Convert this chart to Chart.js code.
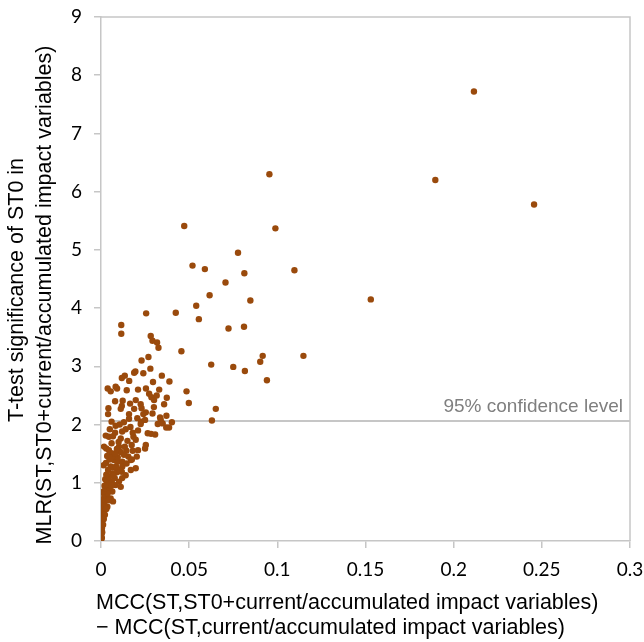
<!DOCTYPE html>
<html>
<head>
<meta charset="utf-8">
<script src="https://cdn.jsdelivr.net/npm/chart.js@4"></script>
<style>
  body { margin: 0; background: #fff; }
  #wrap { width: 644px; height: 642px; }
</style>
</head>
<body>
<div id="wrap"><canvas id="chart" width="644" height="642"></canvas></div>
<script>
// MCC(ST,ST0+current/accumulated) - MCC(ST,current/accumulated)
const mccGain = [
  0.2115, 0.1896, 0.2456, 0.0955, 0.0472, 0.0989, 0.0777, 0.0519, 0.0589, 0.1097,
  0.0813, 0.0706, 0.0616, 0.1530, 0.0847, 0.0540, 0.0555, 0.0723, 0.0811, 0.0456,
  0.0625, 0.0750, 0.0816, 0.0917, 0.0903, 0.1148, 0.0941, 0.0485, 0.0498, 0.0651,
  0.0629, 0.0424,
  0.0256, 0.0115, 0.0115, 0.0282, 0.0292, 0.0318, 0.0326, 0.0269, 0.0195, 0.0188,
  0.0135, 0.0118, 0.0345, 0.0388, 0.0295, 0.0038, 0.0055, 0.0083, 0.0091, 0.0146,
  0.0273, 0.0286, 0.0301, 0.0316, 0.0373, 0.0123, 0.0197, 0.0358, 0.0225, 0.0118,
  0.0112, 0.0042, 0.0188, 0.0254, 0.0040, 0.0159, 0.0240, 0.0292, 0.0159, 0.0206,
  0.0335, 0.0371, 0.0339, 0.0402, 0.0227, 0.0386, 0.0083, 0.0106, 0.0167, 0.0225,
  0.0322, 0.0265, 0.0284, 0.0307, 0.0027, 0.0045, 0.0068, 0.0112, 0.0184, 0.0197,
  0.0174, 0.0254, 0.0250, 0.0017, 0.0030, 0.0045, 0.0060, 0.0102, 0.0112, 0.0144,
  0.0210, 0.0155, 0.0203, 0.0074, 0.0093, 0.0121, 0.0169, 0.0055, 0.0121, 0.0197,
  0.0169, 0.0118, 0.0140, 0.0064, 0.0036, 0.0055, 0.0102, 0.0083, 0.0112, 0.0042,
  0.0064, 0.0023, 0.0055, 0.0068, 0.0017, 0.0036, 0.0011, 0.0008, 0.0004, 0.0002,
  0.0001,
  0.0000, 0.0001, 0.0002, 0.0003, 0.0001, 0.0005, 0.0003, 0.0006, 0.0004, 0.0009,
  0.0007, 0.0012, 0.0010, 0.0015, 0.0008, 0.0020, 0.0013, 0.0025, 0.0011, 0.0030,
  0.0018, 0.0038, 0.0014, 0.0026, 0.0048, 0.0020, 0.0032, 0.0062, 0.0024, 0.0045,
  0.0078, 0.0030, 0.0090, 0.0040, 0.0015, 0.0070, 0.0028, 0.0048, 0.0095, 0.0035,
  0.0062, 0.0080, 0.0130, 0.0090, 0.0135, 0.0060, 0.0100, 0.0150, 0.0080, 0.0120,
  0.0050, 0.0140, 0.0180, 0.0210, 0.0060, 0.0250, 0.0130, 0.0230, 0.0300, 0.0165,
  0.0080, 0.0210, 0.0255, 0.0330, 0.0160, 0.0240, 0.0280, 0.0230, 0.0370, 0.0350,
  0.0180, 0.0145, 0.0175, 0.0105, 0.0085, 0.0070, 0.0120, 0.0058, 0.0045, 0.0030,
  0.0022, 0.0016, 0.0012, 0.0007, 0.0005
];

// t-test significance of ST0
const tStat = [
  7.72, 6.20, 5.78, 6.30, 5.41, 5.37, 4.95, 4.73, 4.67, 4.65,
  4.60, 4.44, 4.22, 4.15, 4.13, 4.04, 3.81, 3.65, 3.68, 3.26,
  3.03, 2.99, 2.92, 3.18, 3.08, 3.18, 2.76, 2.57, 2.37, 2.27,
  2.07, 3.92,
  3.91, 3.71, 3.56, 3.52, 3.44, 3.41, 3.32, 3.16, 2.91, 2.89,
  2.84, 2.80, 2.84, 2.74, 2.73, 2.62, 2.57, 2.65, 2.62, 2.59,
  2.53, 2.47, 2.42, 2.50, 2.46, 2.41, 2.42, 2.35, 2.35, 2.32,
  2.27, 2.28, 2.27, 2.21, 2.18, 2.18, 2.18, 2.19, 2.10, 2.11,
  2.12, 2.15, 2.08, 2.04, 2.05, 1.95, 1.98, 2.00, 1.96, 2.01,
  2.01, 1.85, 1.84, 1.83, 1.81, 1.79, 1.80, 1.76, 1.79, 1.74,
  1.65, 1.65, 1.59, 1.62, 1.59, 1.56, 1.51, 1.62, 1.53, 1.55,
  1.56, 1.45, 1.45, 1.39, 1.36, 1.36, 1.39, 1.28, 1.28, 1.25,
  1.22, 1.19, 1.13, 1.16, 1.05, 1.02, 1.02, 0.96, 0.93, 0.88,
  0.85, 0.76, 0.73, 0.68, 0.65, 0.59, 0.48, 0.36, 0.25, 0.13,
  0.03,
  0.00, 0.06, 0.09, 0.17, 0.20, 0.22, 0.30, 0.33, 0.40, 0.42,
  0.45, 0.52, 0.55, 0.58, 0.61, 0.62, 0.68, 0.70, 0.72, 0.78,
  0.80, 0.82, 0.85, 0.90, 0.92, 0.95, 0.98, 1.00, 1.06, 1.10,
  1.08, 1.14, 1.18, 1.22, 1.30, 1.26, 1.34, 1.40, 1.44, 1.46,
  1.44, 1.50, 1.48, 1.58, 1.62, 1.68, 1.70, 1.72, 1.86, 1.88,
  1.92, 1.92, 1.86, 1.90, 2.05, 2.08, 2.04, 2.28, 2.30, 2.36,
  2.40, 2.60, 2.62, 2.60, 2.75, 2.88, 2.96, 3.10, 1.95, 2.02,
  1.55, 1.33, 1.40, 1.22, 1.28, 1.12, 1.08, 0.95, 0.70, 0.55,
  0.45, 0.38, 0.28, 0.15, 0.05
];

const xTicks = [0, 0.05, 0.1, 0.15, 0.2, 0.25, 0.3];
const yTicks = [0, 1, 2, 3, 4, 5, 6, 7, 8, 9];
const confLevel = 2.06;

const xTitle = ['MCC(ST,ST0+current/accumulated impact variables)',
                '\u2212 MCC(ST,current/accumulated impact variables)'];
const yTitle = ['T-test significance of ST0 in',
                'MLR(ST,ST0+current/accumulated impact variables)'];

const points = mccGain.map((x, i) => ({ x: x, y: tStat[i] }));

const axisGrey = '#c6c6c6';
const titleFont = '21.5px "Liberation Sans", Arial, sans-serif';

const extras = {
  id: 'extras',
  beforeDatasetsDraw(chart) {
    const { ctx, chartArea: a, scales } = chart;
    ctx.save();
    ctx.strokeStyle = axisGrey;
    ctx.lineWidth = 1.5;
    // top + right border
    ctx.beginPath();
    ctx.moveTo(a.left, a.top);
    ctx.lineTo(a.right, a.top);
    ctx.lineTo(a.right, a.bottom);
    ctx.stroke();
    // 95% line
    const yc = scales.y.getPixelForValue(confLevel);
    ctx.lineWidth = 2;
    ctx.beginPath();
    ctx.moveTo(a.left, yc);
    ctx.lineTo(a.right, yc);
    ctx.stroke();
    ctx.restore();
  },
  afterDraw(chart) {
    const { ctx, chartArea: a, scales } = chart;
    ctx.save();
    const yc = scales.y.getPixelForValue(confLevel);
    ctx.fillStyle = '#7f7f7f';
    ctx.font = '19px "Liberation Sans", Arial, sans-serif';
    ctx.textAlign = 'right';
    ctx.textBaseline = 'alphabetic';
    ctx.fillText('95% confidence level', a.right - 7, yc - 9);

    ctx.fillStyle = '#000';
    ctx.font = titleFont;
    ctx.textAlign = 'left';
    ctx.textBaseline = 'middle';
    ctx.fillText(xTitle[0], 96, 603);
    ctx.fillText(xTitle[1], 96, 628);

    ctx.rotate(-Math.PI / 2);
    ctx.textAlign = 'center';
    ctx.fillText(yTitle[0], -290, 17);
    ctx.fillText(yTitle[1], -295, 45);
    ctx.restore();
  }
};

new Chart(document.getElementById('chart'), {
  type: 'scatter',
  data: {
    datasets: [{
      data: points,
      backgroundColor: '#9a4a0c',
      borderColor: '#9a4a0c',
      pointRadius: 3.2,
      pointBorderWidth: 0
    }]
  },
  options: {
    responsive: false,
    animation: false,
    layout: { padding: { top: 17, right: 14, left: 0, bottom: 0 } },
    plugins: { legend: { display: false }, tooltip: { enabled: false } },
    scales: {
      x: {
        type: 'linear',
        min: 0, max: 0.3,
        afterBuildTicks: s => { s.ticks = xTicks.map(v => ({ value: v })); },
        afterFit: s => { s.height = 101; s.paddingLeft = 0; s.paddingRight = 0; },
        grid: { drawOnChartArea: false, color: axisGrey, tickLength: 7, lineWidth: 1.5 },
        border: { color: axisGrey, width: 1.5 },
        ticks: {
          color: '#000',
          padding: 10,
          font: { family: 'Lato', size: 19 },
          callback: v => String(v)
        }
      },
      y: {
        type: 'linear',
        min: 0, max: 9,
        afterBuildTicks: s => { s.ticks = yTicks.map(v => ({ value: v })); },
        afterFit: s => { s.width = 101; s.paddingTop = 0; s.paddingBottom = 0; },
        grid: { drawOnChartArea: false, color: axisGrey, tickLength: 7, lineWidth: 1.5 },
        border: { color: axisGrey, width: 1.5 },
        ticks: {
          color: '#000',
          padding: 12,
          font: { family: 'Lato', size: 19 },
          callback: v => String(v)
        }
      }
    }
  },
  plugins: [extras]
});
</script>
</body>
</html>
